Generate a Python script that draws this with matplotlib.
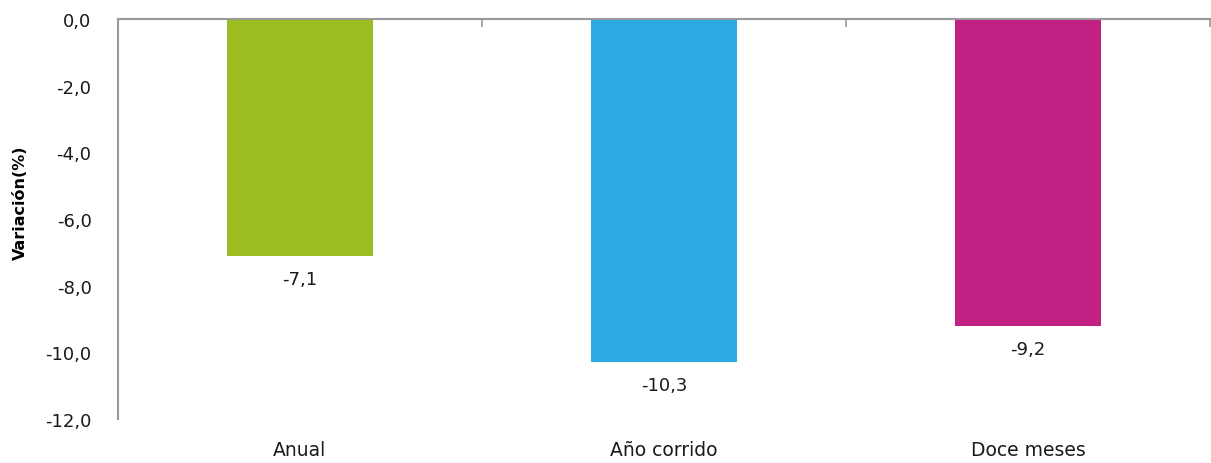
import matplotlib
matplotlib.use("Agg")
import matplotlib.pyplot as plt
from matplotlib.ticker import FuncFormatter, FixedLocator

categories = ["Anual", "Año corrido", "Doce meses"]
values = [-7.1, -10.3, -9.2]
colors = ["#9BBD22", "#2CABE3", "#C02183"]
yticks = [0, -2, -4, -6, -8, -10, -12]


def comma(v, pos=None):
    return f"{v:.1f}".replace(".", ",")


fig = plt.figure(figsize=(12.11, 4.64), dpi=100)
ax = fig.add_axes([0.0974, 0.0948, 0.9017, 0.8621])

x = list(range(len(categories)))
bars = ax.bar(x, values, width=0.4, color=colors, zorder=2)

for xi, v in zip(x, values):
    ax.annotate(comma(v), (xi, v), xytext=(0, -10), textcoords="offset points",
                ha="center", va="top", fontsize=13, color="#1a1a1a")

ax.set_xlim(-0.5, len(categories) - 0.5)
ax.set_ylim(-12, 0)
ax.set_yticks(yticks)
ax.yaxis.set_major_formatter(FuncFormatter(comma))
ax.tick_params(axis="y", length=0, pad=19, labelsize=13, labelcolor="#1a1a1a")

# category labels at the bottom, boundary ticks on the top axis line
ax.set_xticks(x)
ax.set_xticklabels(categories, fontsize=13.5, color="#1a1a1a")
ax.tick_params(axis="x", which="major", length=0, pad=15)
ax.xaxis.set_minor_locator(FixedLocator([-0.5, 0.5, 1.5, 2.5]))
ax.tick_params(axis="x", which="minor", top=True, bottom=False, direction="in",
               length=6, width=1.2, color="#999999")

for s in ["bottom", "right"]:
    ax.spines[s].set_visible(False)
for s in ["top", "left"]:
    ax.spines[s].set_color("#999999")
    ax.spines[s].set_linewidth(1.5)
ax.spines["top"].set_zorder(3)

ax.set_ylabel("Variación(%)", fontsize=11.5, fontweight="bold")
ax.yaxis.set_label_coords(-0.082, 0.5425)

fig.savefig("out.png", dpi=100)
